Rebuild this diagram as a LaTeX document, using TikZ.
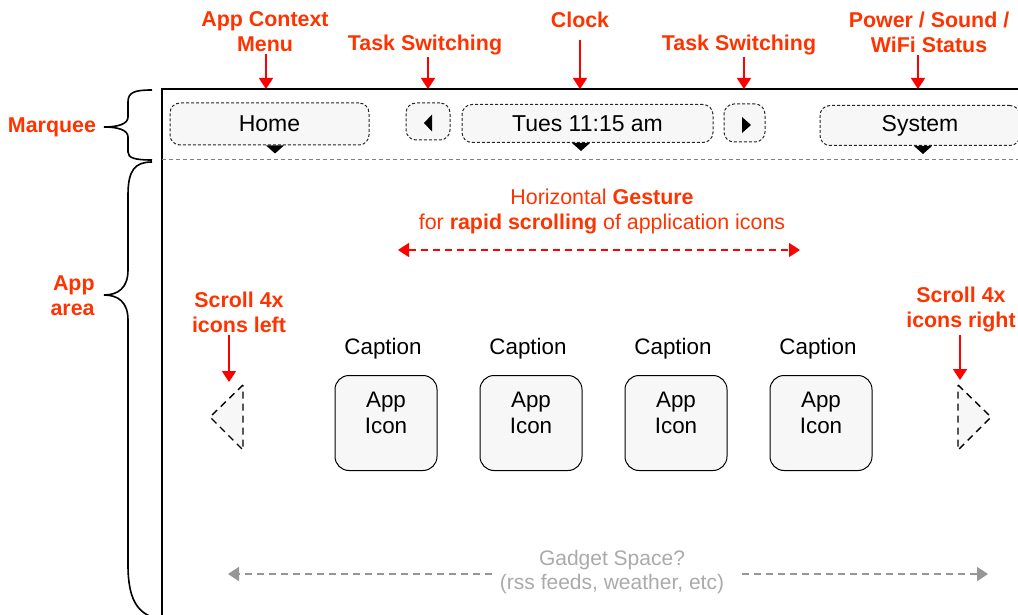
\documentclass[tikz,border=0pt]{standalone}
\usepackage{fontspec}
\setmainfont{Liberation Sans}
\usepackage{xcolor}
\usepackage{tikz}
\usetikzlibrary{arrows.meta, positioning, calc}

\definecolor{notered}{RGB}{255,51,0}
\definecolor{arrowred}{RGB}{255,0,0}
\definecolor{boxfill}{RGB}{247,247,247}
\definecolor{gadgettext}{RGB}{170,170,170}
\definecolor{gadgetline}{RGB}{150,150,150}

\begin{document}
\begin{tikzpicture}[x=0.5pt, y=-0.5pt, >={Triangle[length=5.5pt, width=7pt]},
    note/.style={text=notered, font=\fontsize{10.7}{12.5}\selectfont\bfseries, align=center, inner sep=1pt},
    pointer/.style={->, draw=arrowred, line width=0.9pt},
    marqbox/.style={draw=black!85, dash pattern=on 1.5pt off 1pt, line width=0.5pt, rounded corners=5pt, fill=boxfill, font=\fontsize{11.5}{13}\selectfont, inner sep=0pt},
    appicon/.style={draw, line width=0.5pt, rounded corners=7pt, fill=boxfill, minimum width=51pt, minimum height=47.5pt},
    plain/.style={font=\fontsize{11.2}{13}\selectfont, align=center, inner sep=1pt},
    scrollbtn/.style={draw, fill=boxfill, line width=0.7pt, dash pattern=on 3.5pt off 2.5pt},
    brace/.style={line width=0.8pt},
    marker/.style={fill=black}]
    \useasboundingbox (0,0) rectangle (1018,615);
    \clip (0,0) rectangle (1018,615);

    % screen frame and marquee divider
    \draw [line width=1pt] (162,640) -- (162,89) -- (1040,89);
    \draw [gray, line width=0.5pt, dash pattern=on 2pt off 1.5pt] (162,160) -- (1018,160);

    % marquee
    \node [marqbox, minimum width=99.5pt, minimum height=21pt] (home) at (269.5,124) {Home};
    \node [marqbox, minimum width=22pt, minimum height=18.5pt] (prev) at (428,121.5) {};
    \node [marqbox, minimum width=125.5pt, minimum height=19pt] (clock) at (587.5,123.5) {Tues 11:15 am};
    \node [marqbox, minimum width=20.5pt, minimum height=19pt] (next) at (744.5,123) {};
    \node [marqbox, minimum width=100pt, minimum height=20pt] (system) at (920,125.5) {System};

    \fill [marker] ($(prev.center)+(4,-7)$) -- ($(prev.center)+(4,10)$) -- ($(prev.center)+(-4,1.5)$) -- cycle;
    \fill [marker] ($(next.center)+(-2.5,-6)$) -- ($(next.center)+(-2.5,10)$) -- ($(next.center)+(6.5,2)$) -- cycle;
    \foreach \b/\d in {home/5.5, clock/-6.5, system/3}
        \fill [marker] ($(\b.south)+(\d-9,0)$) -- ($(\b.south)+(\d+9,0)$) -- ($(\b.south)+(\d,8)$) -- cycle;

    % notes on top
    \node [note] (ctxnote) at (265,32) {App Context\\Menu};
    \node [note] (tasklnote) at (425,45) {Task Switching};
    \node [note] (clocknote) at (580,20) {Clock};
    \node [note] (taskrnote) at (739,45) {Task Switching};
    \node [note] (powernote) at (929,32) {Power / Sound /\\WiFi Status};

    \coordinate (ctxtip) at (266,89);
    \coordinate (tasktipl) at (428,89);
    \coordinate (clocktip) at (580,89);
    \coordinate (tasktipr) at (744,89);
    \coordinate (powertip) at (918,89);

    \draw [pointer] (ctxnote.south -| ctxtip) -- (ctxtip);
    \draw [pointer] (tasklnote.south -| tasktipl) -- (tasktipl);
    \draw [pointer, shorten <=5pt] (clocknote.south -| clocktip) -- (clocktip);
    \draw [pointer] (taskrnote.south -| tasktipr) -- (tasktipr);
    \draw [pointer] (powernote.south -| powertip) -- (powertip);

    % braces on the left
    \node [note] (marqnote) at (52,127) {Marquee};
    \node [note, anchor=east, align=right] (areanote) at (97,296) {App\\area};
    \draw [brace] (152,90) .. controls (135,90) and (128,92) .. (128,102) -- (128,117)
        .. controls (128,124) and (118,127) .. (104,127)
        .. controls (118,127) and (128,130) .. (128,137) -- (128,152)
        .. controls (128,158) and (135,160) .. (152,160);
    \draw [brace] (152,162) .. controls (135,162) and (128,170) .. (128,195) -- (128,270)
        .. controls (128,288) and (118,295) .. (104,295)
        .. controls (118,295) and (128,302) .. (128,320) -- (128,565)
        .. controls (128,600) and (138,613) .. (155,618);

    % gesture
    \node [text=notered, font=\fontsize{10.7}{12.5}\selectfont, align=center] (gesture) at (602,212)
        {Horizontal \textbf{Gesture}\\for \textbf{rapid scrolling} of application icons};
    \coordinate (gestl) at (398,250);
    \coordinate (gestr) at (800,250);
    \draw [<->, arrowred, line width=0.8pt, dash pattern=on 3.5pt off 2.5pt] (gestl) -- (gestr);

    % scroll buttons
    \node [note] (scrollnotel) at (239,312) {Scroll 4x\\icons left};
    \node [note] (scrollnoter) at (961,310) {Scroll 4x\\icons right};
    \coordinate (scrolltipl) at (229,382);
    \coordinate (scrolltipr) at (960,380);
    \draw [pointer] (scrollnotel.south -| scrolltipl) -- (scrolltipl);
    \draw [pointer] (scrollnoter.south -| scrolltipr) -- (scrolltipr);
    \draw [scrollbtn] (243,385) -- (210,417) -- (243,450) -- cycle;
    \draw [scrollbtn] (958,385) -- (991,417) -- (958,450) -- cycle;

    % app icons
    \foreach \i in {0,...,3} {
        \node [appicon] (app\i) at ({386+145*\i},423) {};
        \node [plain, below=7.5pt of app\i.north] (icontext\i) {App\\Icon};
        \node [plain] (caption\i) at ({383+145*\i},349) {Caption};
    }

    % gadget space
    \node [text=gadgettext, font=\fontsize{10.5}{12}\selectfont, align=center, inner sep=4pt] (gadget) at (612,572)
        {Gadget Space?\\(rss feeds, weather, etc)};
    \coordinate (gadl) at (228,574);
    \coordinate (gadr) at (988,574);
    \draw [->, gadgetline, line width=0.8pt, dash pattern=on 3.5pt off 2.5pt] (gadget.west |- gadl) -- (gadl);
    \draw [->, gadgetline, line width=0.8pt, dash pattern=on 3.5pt off 2.5pt] ([xshift=5pt]gadget.east |- gadr) -- (gadr);
\end{tikzpicture}
\end{document}
